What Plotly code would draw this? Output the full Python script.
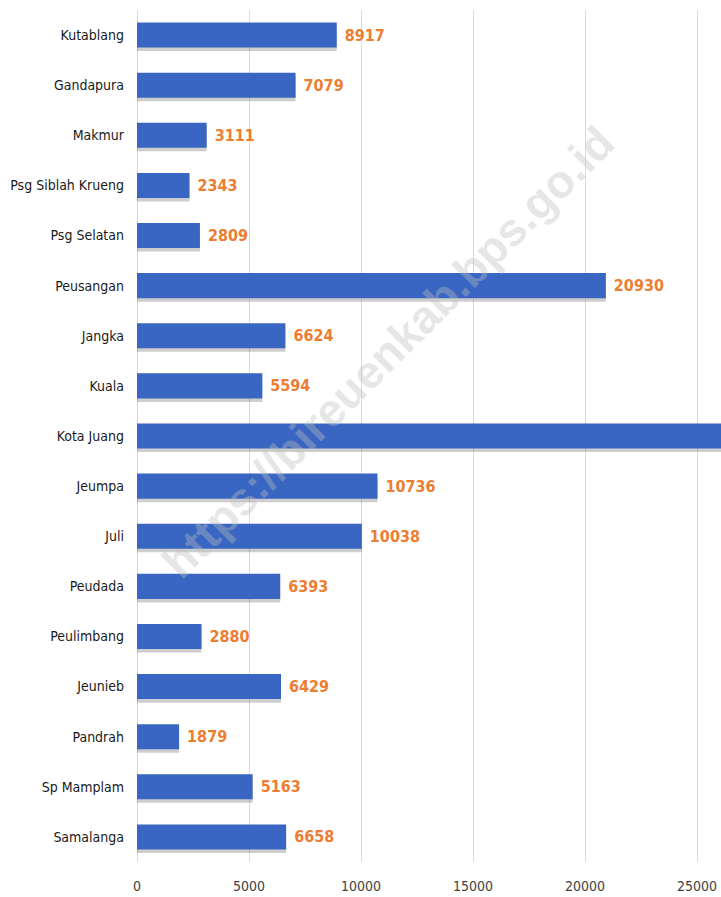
import plotly.graph_objects as go

categories = ["Kutablang", "Gandapura", "Makmur", "Psg Siblah Krueng", "Psg Selatan",
              "Peusangan", "Jangka", "Kuala", "Kota Juang", "Jeumpa", "Juli", "Peudada",
              "Peulimbang", "Jeunieb", "Pandrah", "Sp Mamplam", "Samalanga"]
values = [8917, 7079, 3111, 2343, 2809, 20930, 6624, 5594, 27000, 10736, 10038, 6393,
          2880, 6429, 1879, 5163, 6658]
labels = ["8917", "7079", "3111", "2343", "2809", "20930", "6624", "5594", "", "10736",
          "10038", "6393", "2880", "6429", "1879", "5163", "6658"]
x_ticks = [0, 5000, 10000, 15000, 20000, 25000]

NARROW = "DejaVu Sans Condensed, Liberation Sans Narrow, Arial Narrow, Liberation Sans"

fig = go.Figure()
# soft shadow under bars
fig.add_trace(go.Bar(
    y=categories, x=values, orientation="h",
    width=0.5, offset=-0.25 + 0.07,
    marker=dict(color="rgba(60,60,60,0.25)", line=dict(width=0)),
    hoverinfo="skip",
))
fig.add_trace(go.Bar(
    y=categories, x=values, orientation="h",
    width=0.5, offset=-0.25,
    marker=dict(color="#3866c2", line=dict(width=0)),
    text=["\u00a0" + t if t else "" for t in labels], textposition="outside",
    textfont=dict(family=NARROW, size=16, color="#ED7D31", weight="bold"),
    cliponaxis=True,
    hoverinfo="skip",
))

fig.update_layout(
    width=721, height=897,
    margin=dict(l=137, r=0, t=10, b=35, autoexpand=False),
    plot_bgcolor="white", paper_bgcolor="white",
    showlegend=False,
    barmode="overlay",
    xaxis=dict(range=[0, 26071], tickvals=x_ticks, ticktext=[str(v) for v in x_ticks],
               showgrid=True, gridcolor="#D9D9D9", gridwidth=1,
               zeroline=True, zerolinecolor="#D9D9D9", zerolinewidth=1,
               showline=False, ticks="", ticklabelstandoff=14, automargin=False,
               tickfont=dict(family=NARROW, size=14, color="#404040")),
    yaxis=dict(categoryorder="array", categoryarray=categories, autorange="reversed",
               showgrid=False, showline=False, ticks="", ticklabelstandoff=12,
               automargin=False,
               tickfont=dict(family=NARROW, size=14, color="#1a1a1a")),
    font=dict(family=NARROW),
)

fig.add_annotation(
    text="https://bireuenkab.bps.go.id",
    x=(388 - 137) / 584, y=(897 - 35 - 352) / 852, xref="paper", yref="paper",
    showarrow=False, textangle=-45,
    font=dict(family="Liberation Sans, Arial", size=46, color="rgba(190,190,190,0.38)",
              weight="bold"),
)

fig.write_html(
    "out.html",
    config={"displayModeBar": False},
    post_script="document.body.style.margin='0';document.body.style.overflow='hidden';",
)
